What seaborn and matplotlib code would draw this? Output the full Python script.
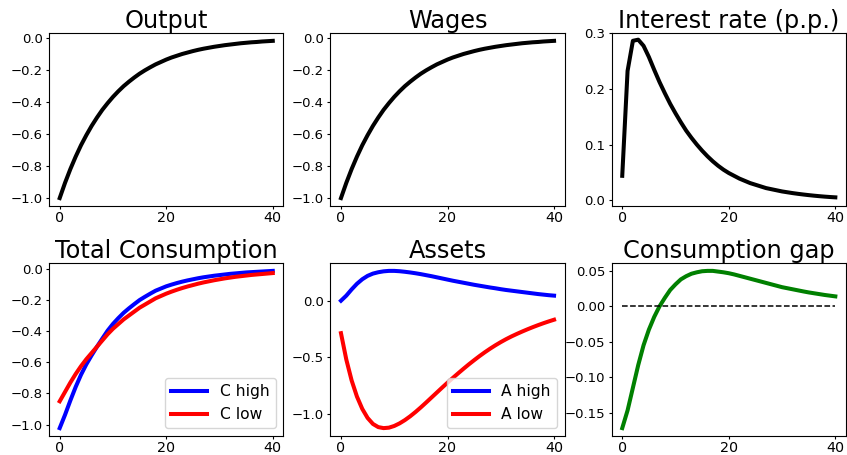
import numpy as np
import pandas as pd
import matplotlib
matplotlib.use("Agg")
import matplotlib.pyplot as plt
import seaborn as sns

# Impulse responses over 41 periods
periods = list(range(41))

output = [-1.0, -0.905, -0.819, -0.741, -0.670, -0.607, -0.549, -0.497, -0.449, -0.407,
          -0.368, -0.333, -0.301, -0.273, -0.247, -0.223, -0.202, -0.183, -0.165, -0.150,
          -0.135, -0.122, -0.111, -0.100, -0.091, -0.082, -0.074, -0.067, -0.061, -0.055,
          -0.050, -0.045, -0.041, -0.037, -0.033, -0.030, -0.027, -0.025, -0.022, -0.020,
          -0.018]

wages = [-1.0, -0.905, -0.819, -0.741, -0.670, -0.607, -0.549, -0.497, -0.449, -0.407,
         -0.368, -0.333, -0.301, -0.273, -0.247, -0.223, -0.202, -0.183, -0.165, -0.150,
         -0.135, -0.122, -0.111, -0.100, -0.091, -0.082, -0.074, -0.067, -0.061, -0.055,
         -0.050, -0.045, -0.041, -0.037, -0.033, -0.030, -0.027, -0.025, -0.022, -0.020,
         -0.018]

interest = [0.044, 0.232, 0.286, 0.288, 0.277, 0.257, 0.234, 0.212, 0.192, 0.173,
            0.156, 0.140, 0.125, 0.112, 0.100, 0.089, 0.079, 0.070, 0.062, 0.055,
            0.049, 0.044, 0.039, 0.035, 0.031, 0.028, 0.025, 0.022, 0.020, 0.018,
            0.016, 0.0145, 0.013, 0.0117, 0.0105, 0.0094, 0.0084, 0.0075, 0.0067, 0.006,
            0.0054]

c_high = [-1.022, -0.937, -0.845, -0.758, -0.680, -0.613, -0.555, -0.500, -0.448, -0.397,
          -0.354, -0.317, -0.283, -0.254, -0.227, -0.201, -0.180, -0.160, -0.141, -0.127,
          -0.113, -0.102, -0.092, -0.083, -0.075, -0.068, -0.061, -0.055, -0.050, -0.045,
          -0.041, -0.037, -0.033, -0.030, -0.027, -0.024, -0.022, -0.020, -0.018, -0.016,
          -0.014]

c_low = [-0.850, -0.790, -0.730, -0.675, -0.625, -0.580, -0.540, -0.500, -0.460, -0.420,
         -0.385, -0.355, -0.325, -0.300, -0.275, -0.250, -0.230, -0.210, -0.190, -0.175,
         -0.160, -0.147, -0.135, -0.124, -0.114, -0.105, -0.096, -0.088, -0.081, -0.074,
         -0.068, -0.062, -0.057, -0.052, -0.048, -0.044, -0.040, -0.037, -0.034, -0.031,
         -0.028]

a_high = [0.0, 0.045, 0.100, 0.150, 0.190, 0.220, 0.240, 0.252, 0.260, 0.264,
          0.264, 0.261, 0.256, 0.250, 0.243, 0.235, 0.226, 0.217, 0.207, 0.197,
          0.187, 0.177, 0.168, 0.159, 0.150, 0.141, 0.133, 0.125, 0.117, 0.110,
          0.102, 0.095, 0.089, 0.083, 0.077, 0.071, 0.065, 0.059, 0.054, 0.049,
          0.045]

a_low = [-0.287, -0.520, -0.705, -0.848, -0.957, -1.037, -1.090, -1.118, -1.127, -1.123,
         -1.108, -1.085, -1.056, -1.022, -0.984, -0.943, -0.900, -0.856, -0.812, -0.768,
         -0.725, -0.683, -0.642, -0.602, -0.563, -0.526, -0.490, -0.456, -0.424, -0.394,
         -0.366, -0.340, -0.316, -0.294, -0.273, -0.253, -0.234, -0.216, -0.199, -0.183,
         -0.168]

gap = [-0.172, -0.147, -0.115, -0.083, -0.055, -0.033, -0.015, 0.000, 0.012, 0.023,
       0.031, 0.038, 0.0425, 0.046, 0.048, 0.0495, 0.050, 0.050, 0.049, 0.048,
       0.0467, 0.045, 0.043, 0.041, 0.039, 0.037, 0.035, 0.033, 0.031, 0.029,
       0.027, 0.0255, 0.024, 0.0225, 0.021, 0.0196, 0.0184, 0.0172, 0.016, 0.015,
       0.014]

zero_line = [0.0] * len(periods)

titles = ["Output", "Wages", "Interest rate (p.p.)",
          "Total Consumption", "Assets", "Consumption gap"]

plt.rcParams["font.family"] = ["DejaVu Sans"]
plt.rcParams["xtick.labelsize"] = 10.3
plt.rcParams["ytick.labelsize"] = 9.5
plt.rcParams["xtick.major.size"] = 2.5
plt.rcParams["ytick.major.size"] = 2.5
plt.rcParams["xtick.major.pad"] = 1.0
plt.rcParams["ytick.major.pad"] = 2.0

fig, axes = plt.subplots(2, 3, figsize=(8.47, 4.55), dpi=100)
fig.subplots_adjust(left=0.0579, right=0.9988, bottom=0.0418, top=0.9275,
                    wspace=0.2, hspace=0.33)

lw = 2.9
df = pd.DataFrame({"t": periods, "output": output, "wages": wages,
                   "interest": interest, "c_high": c_high, "c_low": c_low,
                   "a_high": a_high, "a_low": a_low, "gap": gap,
                   "zero": zero_line})

sns.lineplot(data=df, x="t", y="output", ax=axes[0, 0], color="black", linewidth=lw)
sns.lineplot(data=df, x="t", y="wages", ax=axes[0, 1], color="black", linewidth=lw)
sns.lineplot(data=df, x="t", y="interest", ax=axes[0, 2], color="black", linewidth=lw)

sns.lineplot(data=df, x="t", y="c_high", ax=axes[1, 0], color="blue", linewidth=lw,
             label="C high")
sns.lineplot(data=df, x="t", y="c_low", ax=axes[1, 0], color="red", linewidth=lw,
             label="C low")

sns.lineplot(data=df, x="t", y="a_high", ax=axes[1, 1], color="blue", linewidth=lw,
             label="A high")
sns.lineplot(data=df, x="t", y="a_low", ax=axes[1, 1], color="red", linewidth=lw,
             label="A low")

sns.lineplot(data=df, x="t", y="gap", ax=axes[1, 2], color="green", linewidth=lw)
sns.lineplot(data=df, x="t", y="zero", ax=axes[1, 2], color="black", linewidth=1.1,
             linestyle="--")

for ax, title in zip(axes.flat, titles):
    ax.set_title(title, fontsize=17.3, pad=3.6)
    ax.set_xlabel("")
    ax.set_ylabel("")
    ax.set_xticks([0, 20, 40])

axes[0, 2].set_yticks([0.0, 0.1, 0.2, 0.3])
axes[0, 2].set_ylim(-0.01, 0.3)
axes[1, 1].set_yticks([0.0, -0.5, -1.0])
axes[1, 2].set_yticks([0.05, 0.0, -0.05, -0.10, -0.15])

for ax in (axes[1, 0], axes[1, 1]):
    ax.legend(loc="lower right", fontsize=11.2, handlelength=2.3)

fig.savefig("out.png", dpi=100)
